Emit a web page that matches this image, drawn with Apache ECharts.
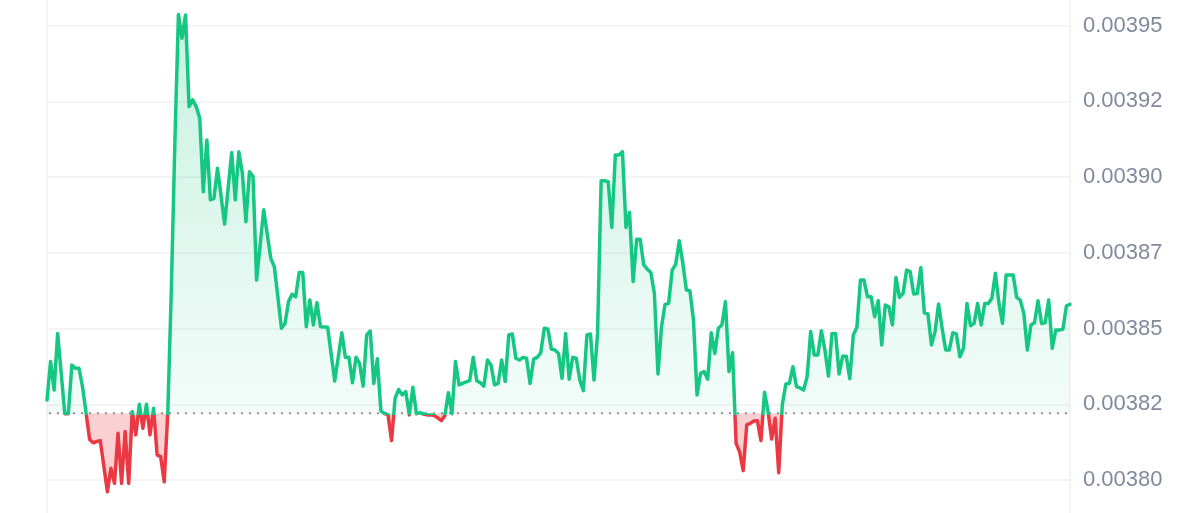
<!DOCTYPE html>
<html>
<head>
<meta charset="utf-8">
<script src="https://cdn.jsdelivr.net/npm/echarts@6/dist/echarts.min.js"></script>
<style>
html,body{margin:0;padding:0;background:#ffffff;}
#chart{width:1200px;height:513px;}
</style>
</head>
<body>
<div id="chart"></div>
<script>
// Reference (opening) price shown as the dotted line
const baseline = 0.003822;

// Price samples, evenly spaced in time
const prices = [
  0.0038264,0.0038391,0.0038297,0.0038484,0.0038353,0.0038219,0.0038219,0.0038380,0.0038369,0.0038369,
  0.0038308,0.0038221,0.0038134,0.0038123,0.0038127,0.0038130,0.0038046,0.0037961,0.0038039,0.0037989,
  0.0038154,0.0037989,0.0038160,0.0037989,0.0038226,0.0038149,0.0038250,0.0038171,0.0038250,0.0038149,
  0.0038237,0.0038083,0.0038077,0.0037994,0.0038220,0.0038627,0.0039116,0.0039537,0.0039459,0.0039535,
  0.0039233,0.0039255,0.0039233,0.0039194,0.0038952,0.0039123,0.0038925,0.0038930,0.0039029,0.0038938,
  0.0038845,0.0038964,0.0039081,0.0038925,0.0039084,0.0039013,0.0038853,0.0039018,0.0039002,0.0038660,
  0.0038776,0.0038892,0.0038812,0.0038732,0.0038704,0.0038604,0.0038501,0.0038517,0.0038589,0.0038613,
  0.0038605,0.0038685,0.0038685,0.0038506,0.0038594,0.0038512,0.0038585,0.0038506,0.0038505,0.0038504,
  0.0038416,0.0038327,0.0038406,0.0038486,0.0038405,0.0038405,0.0038321,0.0038405,0.0038385,0.0038310,
  0.0038479,0.0038492,0.0038319,0.0038400,0.0038228,0.0038219,0.0038216,0.0038130,0.0038270,0.0038299,
  0.0038281,0.0038292,0.0038215,0.0038306,0.0038219,0.0038222,0.0038218,0.0038215,0.0038215,0.0038213,
  0.0038205,0.0038196,0.0038212,0.0038288,0.0038219,0.0038391,0.0038314,0.0038319,0.0038324,0.0038328,
  0.0038405,0.0038328,0.0038321,0.0038310,0.0038396,0.0038380,0.0038314,0.0038319,0.0038396,0.0038325,
  0.0038479,0.0038482,0.0038402,0.0038396,0.0038405,0.0038402,0.0038319,0.0038399,0.0038405,0.0038420,
  0.0038501,0.0038499,0.0038432,0.0038429,0.0038418,0.0038336,0.0038484,0.0038333,0.0038405,0.0038402,
  0.0038330,0.0038295,0.0038479,0.0038482,0.0038330,0.0038484,0.0038988,0.0038988,0.0038985,0.0038834,
  0.0039073,0.0039073,0.0039084,0.0038834,0.0038883,0.0038655,0.0038795,0.0038795,0.0038710,0.0038696,
  0.0038685,0.0038616,0.0038350,0.0038506,0.0038580,0.0038583,0.0038693,0.0038713,0.0038790,0.0038716,
  0.0038627,0.0038625,0.0038528,0.0038281,0.0038352,0.0038358,0.0038333,0.0038486,0.0038418,0.0038501,
  0.0038512,0.0038589,0.0038358,0.0038420,0.0038121,0.0038093,0.0038031,0.0038182,0.0038187,0.0038195,
  0.0038196,0.0038130,0.0038290,0.0038226,0.0038135,0.0038204,0.0038024,0.0038248,0.0038317,0.0038319,
  0.0038374,0.0038308,0.0038304,0.0038297,0.0038341,0.0038490,0.0038413,0.0038413,0.0038493,0.0038429,
  0.0038343,0.0038484,0.0038484,0.0038350,0.0038409,0.0038409,0.0038334,0.0038479,0.0038504,0.0038660,
  0.0038660,0.0038605,0.0038605,0.0038539,0.0038592,0.0038446,0.0038578,0.0038572,0.0038512,0.0038669,
  0.0038603,0.0038616,0.0038693,0.0038688,0.0038614,0.0038616,0.0038702,0.0038552,0.0038548,0.0038446,
  0.0038490,0.0038581,0.0038501,0.0038429,0.0038429,0.0038486,0.0038482,0.0038407,0.0038435,0.0038583,
  0.0038509,0.0038517,0.0038583,0.0038512,0.0038583,0.0038583,0.0038600,0.0038683,0.0038583,0.0038517,
  0.0038677,0.0038677,0.0038677,0.0038603,0.0038594,0.0038550,0.0038429,0.0038512,0.0038519,0.0038592,
  0.0038517,0.0038519,0.0038594,0.0038435,0.0038495,0.0038495,0.0038498,0.0038575,0.0038580
];

// Y axis tick range (labels 0.00380 ... 0.00395)
const yMin = 0.0038;
const yMax = 0.00395;
const yStep = 0.000025;

const upColor = '#16c784';
const downColor = '#ea3943';
const gridColor = '#eef0f3';
const labelColor = '#808a9d';

const seriesData = prices.map((v, i) => [i, v]);
const baselineData = [[0, baseline], [prices.length - 1, baseline]];
const maxV = Math.max(...prices);
const minV = Math.min(...prices);
// fraction of the (max..min) vertical span that lies above the baseline
const split = (maxV - baseline) / (maxV - minV);

const chart = echarts.init(document.getElementById('chart'), null, {renderer: 'canvas'});

chart.setOption({
  animation: false,
  backgroundColor: '#ffffff',
  grid: [
    {left: 47, right: 130, top: 25.7, bottom: 33},
    {left: 47, right: 130, top: 0, bottom: 0}
  ],
  xAxis: [
    {gridIndex: 0, type: 'value', min: 0, max: prices.length - 1, show: false},
    {gridIndex: 1, type: 'value', min: 0, max: 1, show: false}
  ],
  yAxis: [
    {
      gridIndex: 0, type: 'value', position: 'right',
      min: yMin, max: yMax, interval: yStep,
      axisLine: {show: false}, axisTick: {show: false},
      axisLabel: {
        color: labelColor, fontSize: 22, fontFamily: 'Liberation Sans, Arial, sans-serif',
        margin: 13,
        formatter: v => (Math.floor(v * 1e5 + 1e-6) / 1e5).toFixed(5)
      },
      splitLine: {show: true, lineStyle: {color: gridColor, width: 1.5}}
    },
    {
      gridIndex: 1, type: 'value', position: 'left', min: 0, max: 1,
      axisLine: {show: true, lineStyle: {color: gridColor, width: 1.5}},
      axisTick: {show: false}, axisLabel: {show: false}, splitLine: {show: false}
    },
    {
      gridIndex: 1, type: 'value', position: 'right', min: 0, max: 1,
      axisLine: {show: true, lineStyle: {color: gridColor, width: 1.5}},
      axisTick: {show: false}, axisLabel: {show: false}, splitLine: {show: false}
    }
  ],
  series: [
    {
      type: 'line',
      xAxisIndex: 0, yAxisIndex: 0,
      data: seriesData,
      showSymbol: false,
      symbol: 'none',
      clip: false,
      smooth: false,
      silent: true,
      z: 3,
      lineStyle: {
        width: 3.5, cap: 'round', join: 'round',
        color: new echarts.graphic.LinearGradient(0, 0, 0, 1, [
          {offset: 0, color: upColor},
          {offset: split, color: upColor},
          {offset: split, color: downColor},
          {offset: 1, color: downColor}
        ])
      },
      areaStyle: {
        origin: baseline,
        opacity: 1,
        color: new echarts.graphic.LinearGradient(0, 0, 0, 1, [
          {offset: 0, color: 'rgba(22,199,132,0.24)'},
          {offset: split, color: 'rgba(22,199,132,0.05)'},
          {offset: split, color: 'rgba(234,57,67,0.24)'},
          {offset: 1, color: 'rgba(234,57,67,0.24)'}
        ])
      }
    },
    {
      type: 'line',
      xAxisIndex: 0, yAxisIndex: 0,
      data: baselineData,
      showSymbol: false,
      symbol: 'none',
      silent: true,
      z: 2,
      lineStyle: {color: '#8c919c', width: 2, type: [2, 6], dashOffset: 6}
    }
  ]
});
</script>
</body>
</html>
